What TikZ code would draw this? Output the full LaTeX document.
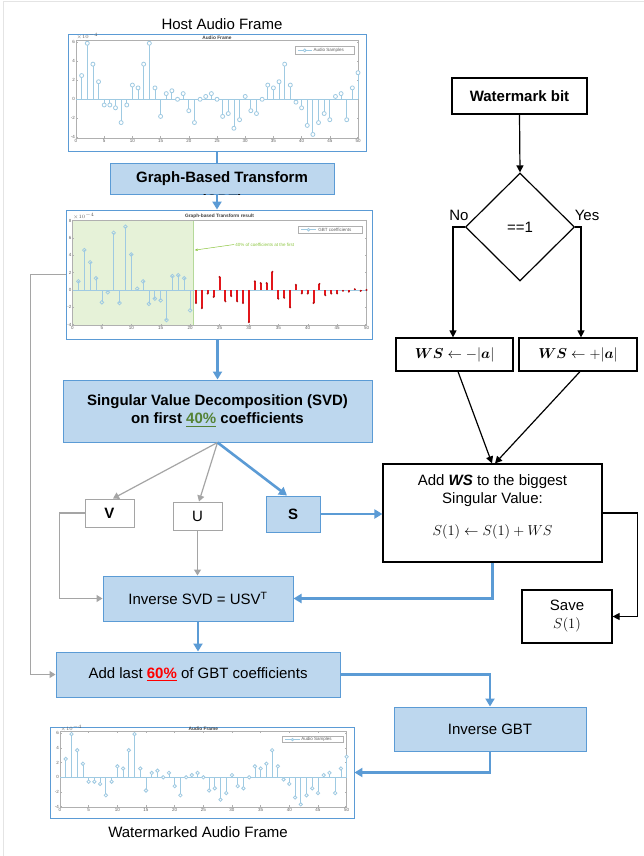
\documentclass[tikz,border=0pt]{standalone}
\usepackage{fontspec}
\setmainfont{Liberation Sans}
\usepackage{amsmath}
\usetikzlibrary{arrows.meta,shapes.geometric,calc}
\definecolor{boxfill}{HTML}{BDD7EE}
\definecolor{boxline}{HTML}{5B9BD5}
\definecolor{flowgray}{HTML}{A5A5A5}
\definecolor{stemblue}{HTML}{9FCAE2}
\definecolor{pctgreen}{HTML}{548235}
\definecolor{shadegreen}{HTML}{E6F2D8}
\definecolor{shadeedge}{HTML}{B5D99A}
\definecolor{annogreen}{HTML}{8CC63F}
\definecolor{stemred}{HTML}{E2161B}
\definecolor{axgray}{HTML}{B0B0B0}
\definecolor{lblgray}{HTML}{606060}
\definecolor{framegray}{HTML}{E4E4E4}

\tikzset{
  f15/.style={font=\fontsize{15}{18}\selectfont},
  f15b/.style={font=\fontsize{15}{18}\selectfont\bfseries},
  bluebox/.style={draw=boxline, fill=boxfill, line width=1pt, inner sep=0pt, align=center},
  blackbox/.style={draw=black, fill=white, line width=1.2pt, inner sep=0pt, align=center},
  graybox/.style={draw=flowgray, fill=white, line width=1pt, inner sep=0pt},
  plotframe/.style={draw=boxline, fill=white, line width=0.9pt, inner sep=0pt},
  bluearrow/.style={draw=boxline, line width=2.6pt, -{Triangle[length=8pt,width=9pt]}},
  blueline/.style={draw=boxline, line width=2.6pt},
  grayarrow/.style={draw=flowgray, line width=1.2pt, -{Triangle[length=6pt,width=7pt]}},
  blackarrow/.style={draw=black, line width=1.2pt, -{Triangle[length=7pt,width=7pt]}},
  axisline/.style={draw=axgray, line width=0.4pt},
  stemline/.style={draw=stemblue, line width=0.8pt},
  ticklbl/.style={font=\fontsize{4.5}{5}\selectfont, text=lblgray, inner sep=1pt},
  titlelbl/.style={font=\fontsize{4.8}{5}\selectfont\bfseries, text=black!75, inner sep=0.6pt},
}

\def\audiodata{2.5,5.9,3.7,1.85,-0.6,-0.6,-0.9,-2.45,-0.6,1.5,1.2,3.7,5.9,1.2,-1.8,0.6,0.9,0,0.6,-1.2,-2.45,0,0.3,0.6,0,-1.8,-1.5,-3.05,-2.15,0.3,-1.2,-1.5,0,1.5,1.2,1.85,3.7,1.5,-0.3,-0.9,-2.75,-3.7,-2.45,-1.5,-2.15,0.3,0.6,-2.15,1.2,2.8}
\def\gbtblue{1.0,4.6,3.2,1.35,-1.42,-0.27,6.6,-1.5,7.3,4.1,0.15,1.0,-1.6,-1.0,-1.2,-3.46,1.6,1.7,1.35,-2.35}
\def\gbtred{-1.5,-2.1,-0.4,-0.8,1.5,-1.3,-0.7,-1.3,-1.5,-3.7,1.0,0.8,0.8,2.1,-1.0,-0.9,-2.0,0.6,-0.4,-0.4,-1.5,0.7,-0.6,-0.4,-0.4,-0.1,-0.2,0.1,-0.1,0.0}

\newcommand\audioplotbody[1]{%
  \draw[axisline] (0,-4.05) rectangle (50,6.25);
  \foreach \t in {0,5,...,50} {
    \draw[axisline] (\t,-4.05) -- ++(0pt,1.5pt);
    \draw[axisline] (\t,6.25) -- ++(0pt,-1.5pt);
    \node[ticklbl,below] at (\t,-4.05) {\t};}
  \foreach \t in {-4,-2,0,2,4,6} {
    \draw[axisline] (0,\t) -- ++(1.5pt,0pt);
    \draw[axisline] (50,\t) -- ++(-1.5pt,0pt);
    \node[ticklbl,left] at (0,\t) {\t};}
  \draw[stemline] (0,0) -- (50,0);
  \foreach \v [count=\i] in \audiodata {
    \draw[stemline] (\i,0) -- (\i,\v);
    \draw[stemline, fill=white] (\i,\v) circle[radius=#1];}
  \node[ticklbl, above right, inner sep=0.4pt] at (0,6.25) {$\times10^{-4}$};
  \node[titlelbl, above] at (25,6.25) {Audio Frame};
  \draw[axisline, fill=white] (38.8,5.55) rectangle (49.4,4.75);
  \draw[stemline] (39.3,5.15) -- (41.8,5.15);
  \draw[stemline, fill=white] (40.55,5.15) circle[radius=0.7*#1];
  \node[ticklbl, right, inner sep=0.5pt] at (42,5.15) {Audio Samples};
}

\begin{document}
\begin{tikzpicture}[x=1pt, y=-1pt, every node/.style={f15}]
\useasboundingbox (0,0) rectangle (644,856);
\fill[white] (0,0) rectangle (644,856);
\draw[framegray, line width=0.8pt] (3,856) -- (3,1) -- (644,1);

% ---------------- left column ----------------
\node (hostlbl) at (222,24) {Host Audio Frame};

\node[plotframe, minimum width=298pt, minimum height=117pt] (plotA) at (217,92.5) {};
\begin{scope}[shift={(76,99.3)}, x=5.64pt, y=9.5pt]
  \audioplotbody{2pt}
\end{scope}

\node[bluebox, f15b, minimum width=224pt, minimum height=31pt] (gbt) at (222,179) {Graph-Based Transform};
\begin{scope}
  \clip (111,164) rectangle (333,194.4);
  \node[f15b, inner sep=0pt] (gbtcut) at (222,201.5) {(GBT)};
\end{scope}

\node[plotframe, minimum width=306pt, minimum height=129pt] (plotB) at (219,274.5) {};
\begin{scope}[shift={(72.5,290)}, x=5.88pt, y=8.67pt]
  \fill[shadegreen] (0,-4.05) rectangle (20.6,8.1);
  \draw[shadeedge, line width=0.5pt] (20.6,-4.05) -- (20.6,8.1);
  \draw[axisline] (0,-4.05) rectangle (50,8.1);
  \foreach \t in {0,5,...,50} {
    \draw[axisline] (\t,-4.05) -- ++(0pt,1.5pt);
    \draw[axisline] (\t,8.1) -- ++(0pt,-1.5pt);
    \node[ticklbl,below] at (\t,-4.05) {\t};}
  \foreach \t in {-4,-2,0,2,4,6,8} {
    \draw[axisline] (0,\t) -- ++(1.5pt,0pt);
    \draw[axisline] (50,\t) -- ++(-1.5pt,0pt);
    \node[ticklbl,left] at (0,\t) {\t};}
  \draw[stemline] (0,0) -- (50,0);
  \foreach \v [count=\i] in \gbtblue {
    \draw[stemline] (\i,0) -- (\i,\v);
    \draw[stemline] (\i,\v) circle[radius=1.8pt];}
  \foreach \v [count=\i from 21] in \gbtred {
    \draw[stemred, line width=2pt] (\i,0) -- (\i,\v);
    \fill[stemred!80!black] (\i,\v) circle[radius=1.1pt];}
  \node[ticklbl, above right, inner sep=0.4pt] at (0,8.1) {$\times10^{-4}$};
  \node[titlelbl, above] at (25,8.1) {Graph-based Transform result};
  \draw[axisline, fill=white] (38.4,7.4) rectangle (49.2,6.5);
  \draw[stemline] (38.9,6.95) -- (41.4,6.95);
  \draw[stemline, fill=white] (40.15,6.95) circle[radius=1.3pt];
  \node[ticklbl, right, inner sep=0.5pt] at (41.7,6.95) {GBT coefficients};
  \node[ticklbl, text=annogreen, right, inner sep=0.5pt] at (27.6,5.2) {40\% of coefficients at the first};
  \draw[annogreen, line width=0.5pt, -{Stealth[length=3pt,width=2.5pt]}] (27.5,5.25) -- (20.8,4.6);
\end{scope}

\node[bluebox, f15b, minimum width=309pt, minimum height=62pt] (svd) at (217.5,411)
  {Singular Value Decomposition (SVD)\\on first {\color{pctgreen}\underline{40\%}} coefficients};

\node[graybox, f15b, minimum width=49pt, minimum height=28pt] (V) at (109.5,513) {V};
\node[graybox, minimum width=49pt, minimum height=28pt] (U) at (197.5,516) {U};
\node[bluebox, f15b, minimum width=54pt, minimum height=36pt] (S) at (293,514) {S};

\node[bluebox, minimum width=190pt, minimum height=45pt] (isvd) at (198,598.5) {Inverse SVD = USV\textsuperscript{T}};

\node[bluebox, minimum width=284pt, minimum height=45pt] (add60) at (198,674.5)
  {Add last {\color{red}\bfseries\underline{60\%}} of GBT coefficients};

\node[bluebox, minimum width=192pt, minimum height=44pt] (igbt) at (490,729) {Inverse GBT};

\node[plotframe, minimum width=304pt, minimum height=91pt] (plotC) at (202,772.5) {};
\begin{scope}[shift={(60,777.3)}, x=5.733pt, y=7.33pt]
  \audioplotbody{1.7pt}
\end{scope}
\node (wmlbl) at (198,832) {Watermarked Audio Frame};

% ---------------- right column ----------------
\node[blackbox, f15b, minimum width=135pt, minimum height=36pt] (wbit) at (519.5,96) {Watermark bit};
\node[draw, diamond, line width=1.2pt, inner sep=0pt, minimum width=109pt, minimum height=108pt] (dia) at (520,227) {==1};
\node (nolbl) at (459,215) {No};
\node (yeslbl) at (587,215) {Yes};

\node[blackbox, minimum width=117pt, minimum height=33pt, font=\fontsize{14}{16}\selectfont] (wsneg) at (454.5,354.5)
  {$\boldsymbol{WS}\leftarrow -|\boldsymbol{a}|$};
\node[blackbox, minimum width=118pt, minimum height=33pt, font=\fontsize{14}{16}\selectfont] (wspos) at (578,354.5)
  {$\boldsymbol{WS}\leftarrow +|\boldsymbol{a}|$};

\node[blackbox, minimum width=219pt, minimum height=98pt] (addws) at (492.5,513) {};
\node[align=center, inner sep=0pt] (addwstxt) at (492.5,507)
  {Add \textbf{\textit{WS}} to the biggest\\Singular Value:\\[14pt]$S(1)\leftarrow S(1)+WS$};

\node[blackbox, minimum width=90pt, minimum height=53pt] (save) at (567,616.5) {Save\\$S(1)$};

% ---------------- connectors ----------------
\draw[blueline] (plotA.south) -- (plotA.south |- gbt.north);
\draw[bluearrow] (plotA.south |- gbt.south) -- (plotA.south |- plotB.north);
\draw[bluearrow] (svd.north |- plotB.south) -- (svd.north);
\draw[grayarrow] (svd.south) -- ($(V.north)+(3.5,0)$);
\draw[grayarrow] (svd.south) -- ($(U.north)+(1.5,0)$);
\draw[bluearrow] (svd.south) -- ($(S.north)+(-6,0)$);
\draw[bluearrow] (S.east) -- (S.east -| addws.west);
\draw[grayarrow] (V.west) -- ++(-25,0) |- (isvd.west);
\draw[grayarrow] (U.south) -- (U.south |- isvd.north);
\draw[bluearrow] (addws.south) |- (isvd.east);
\draw[bluearrow] (isvd.south) -- (add60.north);
\draw[grayarrow] (plotB.west) -- ++(-35,0) |- (add60.west);
\draw[bluearrow] (add60.east) -| (igbt.north);
\draw[bluearrow] (igbt.south) |- (plotC.east);

\draw[blackarrow] (wbit.south) -- (dia.north);
\draw[blackarrow] (dia.west) -| ($(wsneg.north)+(-1.5,0)$);
\draw[blackarrow] (dia.east) -| ($(wspos.north)+(3,0)$);
\draw[blackarrow] ($(wsneg.south)+(3.5,0)$) -- ($(addws.north)+(-0.5,0)$);
\draw[blackarrow] ($(wspos.south)+(2,0)$) -- ($(addws.north)+(2.5,0)$);
\draw[blackarrow] (addws.east) -- ++(35,0) |- (save.east);
\end{tikzpicture}
\end{document}
